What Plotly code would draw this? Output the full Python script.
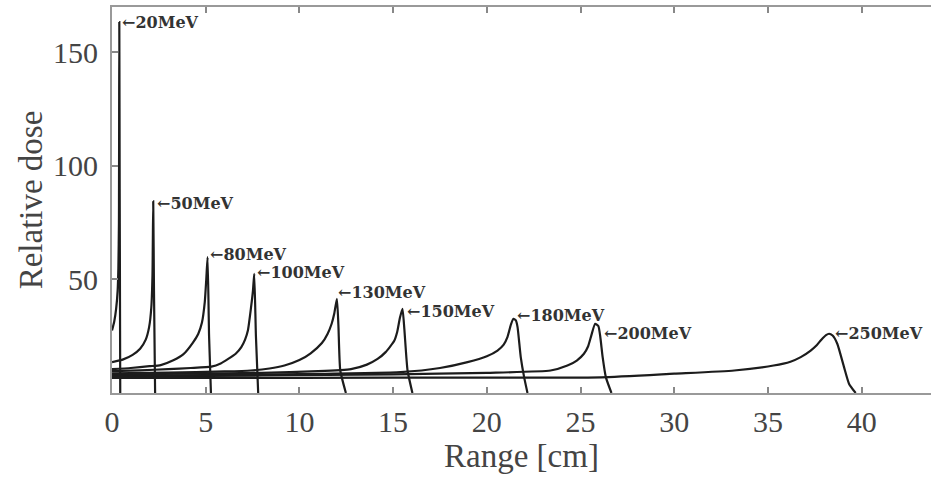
import plotly.graph_objects as go

# ---- data (Range [cm], Relative dose) ----
energies = ["20MeV", "50MeV", "80MeV", "100MeV", "130MeV", "150MeV", "180MeV", "200MeV", "250MeV"]

x_20 = [0, 0.12, 0.22, 0.30, 0.34, 0.37, 0.39, 0.41, 0.44]
y_20 = [27.5, 31.5, 37, 45, 55, 75, 163.4, 90, 0]

x_50 = [0, 0.6, 1.1, 1.5, 1.8, 1.98, 2.1, 2.16, 2.2, 2.24, 2.3]
y_50 = [13.6, 14.8, 16.8, 19.5, 23.5, 29, 38, 52, 84.4, 45, 0]

x_80 = [0, 1, 2, 2.6, 3.3, 3.8, 4.3, 4.6, 4.8, 4.95, 5.03, 5.1, 5.18, 5.28]
y_80 = [10.5, 11, 11.8, 12.3, 14.5, 17, 22, 26, 31, 40, 50, 59.8, 25, 0]

x_100 = [0, 1.5, 3, 4.2, 5.3, 5.8, 6.2, 6.6, 6.9, 7.1, 7.25, 7.42, 7.52, 7.59, 7.68, 7.8]
y_100 = [9.6, 10, 10.5, 11, 11.6, 13, 15, 17.3, 20.2, 23.5, 27.5, 37.8, 45, 52.5, 25, 0]

x_130 = [0, 3, 6, 7.4, 8.4, 9.2, 10.0, 10.6, 11.2, 11.5, 11.72, 11.86, 12.0, 12.08, 12.18, 12.48]
y_130 = [8.6, 9.0, 9.5, 9.9, 10.8, 12.1, 14.5, 17.5, 22, 26, 30.5, 35, 41.5, 30, 9.9, 0]

x_150 = [0, 4, 8, 11, 12.75, 13.6, 14.17, 14.6, 15.06, 15.22, 15.36, 15.5, 15.6, 15.77, 16.03]
y_150 = [8.2, 8.5, 8.9, 9.6, 10.5, 12.5, 15, 18, 23, 27, 33, 37.1, 28, 9.9, 0]

x_180 = [0, 5, 10, 15.4, 17.5, 18.97, 20.0, 20.57, 20.9, 21.1, 21.28, 21.42, 21.55, 21.64, 21.81, 21.99, 22.17]
y_180 = [7.6, 7.9, 8.3, 9.2, 11, 13.6, 16.2, 18.7, 21.3, 24.6, 30, 32.7, 32, 29, 15.8, 7, 0]

x_200 = [0, 8, 15, 20, 23.4, 24.3, 24.8, 25.18, 25.4, 25.58, 25.78, 25.95, 26.05, 26.18, 26.35, 26.65]
y_200 = [7.3, 7.7, 8.2, 8.9, 9.9, 12.1, 14.3, 17.3, 20.5, 25.5, 30.5, 29.5, 25, 15.8, 7, 0]

x_250 = [0, 10, 20, 26.1, 30, 33.2, 35.3, 36.2, 36.75, 37.28, 37.6, 37.85, 38.1, 38.26, 38.45, 38.7, 39.06, 39.33, 39.68]
y_250 = [6.6, 6.7, 6.8, 6.9, 8.5, 9.9, 12.1, 13.8, 15.8, 18.7, 21, 23.5, 25.5, 26.1, 25.3, 21.7, 11.4, 4, 0]

x_series = [x_20, x_50, x_80, x_100, x_130, x_150, x_180, x_200, x_250]
y_series = [y_20, y_50, y_80, y_100, y_130, y_150, y_180, y_200, y_250]

x_ticks = [0, 5, 10, 15, 20, 25, 30, 35, 40]
y_ticks = [50, 100, 150]

# label pixel offsets (style only)
label_dx = [1, 2, 0, 1, -1, 3, 2, 7, 4]
label_dy = [-1, -2, 3, 1, 6, -3, 3, -10, 0]

fig = go.Figure()
for name, xs, ys in zip(energies, x_series, y_series):
    fig.add_trace(go.Scatter(x=xs, y=ys, mode="lines", name=name,
                             line=dict(color="#1c1c1c", width=2.2, shape="spline", smoothing=0.5),
                             showlegend=False, hoverinfo="skip"))

for name, xs, ys, dx, dy in zip(energies, x_series, y_series, label_dx, label_dy):
    i = max(range(len(ys)), key=lambda k: ys[k])
    fig.add_annotation(x=xs[i], y=ys[i], text="\u2190" + name, showarrow=False,
                       xanchor="left", yanchor="middle", xshift=dx, yshift=dy,
                       font=dict(family="DejaVu Serif", size=16, color="#333333", weight="bold"))

axis_font = dict(family="Liberation Serif", size=30, color="#444444")
fig.update_layout(
    width=931, height=479,
    margin=dict(l=112, r=0, t=7, b=86),
    paper_bgcolor="white", plot_bgcolor="white",
    font=dict(family="Liberation Serif", color="#444444"),
    xaxis=dict(range=[0, 43.7], tickvals=x_ticks, ticks="inside", ticklen=6,
               tickcolor="#888888", tickwidth=1.5, showline=True, linecolor="#999999",
               linewidth=2, mirror="ticks", showgrid=False, zeroline=False,
               tickfont=axis_font, ticklabelstandoff=1,
               title=dict(text="Range [cm]", font=dict(family="Liberation Serif", size=33, color="#444444"),
                          standoff=0)),
    yaxis=dict(range=[0, 170], tickvals=y_ticks, ticks="inside", ticklen=6,
               tickcolor="#888888", tickwidth=1.5, showline=True, linecolor="#999999",
               linewidth=2, showgrid=False, zeroline=False,
               tickfont=axis_font, ticklabelstandoff=6,
               title=dict(text="Relative dose", font=dict(family="Liberation Serif", size=33, color="#444444"),
                          standoff=0)),
)

fig.write_html("out.html")
